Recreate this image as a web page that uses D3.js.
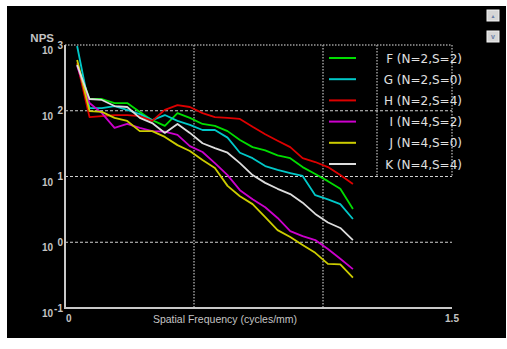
<!DOCTYPE html>
<html>
<head>
<meta charset="utf-8">
<script src="https://cdn.jsdelivr.net/npm/d3@7"></script>
<style>
  body { margin: 0; background: #ffffff; }
  svg { display: block; }
</style>
</head>
<body>
<div id="chart"></div>
<script>
// spatial frequency samples (cycles/mm)
let freqs = [0.047, 0.095, 0.143, 0.192, 0.241, 0.290, 0.338, 0.387, 0.436, 0.484, 0.533, 0.581,
             0.630, 0.678, 0.727, 0.776, 0.824, 0.873, 0.921, 0.970, 1.019, 1.067, 1.116];

let series_names = ["F (N=2,S=2)", "G (N=2,S=0)", "H (N=2,S=4)", "I (N=4,S=2)", "J (N=4,S=0)", "K (N=4,S=4)"];
let series_colors = ["#00dd00", "#00c8c8", "#dd0000", "#cc00cc", "#cccc00", "#dddddd"];

let nps_F = [514, 151, 151, 131, 131, 96, 72, 59, 92, 78, 63, 59, 49, 36, 28, 25, 21, 19, 13.9, 10.9, 8.5, 6.5, 3.2];
let nps_G = [966, 110, 110, 118, 103, 89, 72, 86, 70, 61, 51, 51, 39, 23, 19, 14.4, 12.6, 11.3, 10.2, 5.2, 4.5, 3.8, 2.26];
let nps_H = [532, 80, 83, 86, 86, 83, 70, 103, 122, 114, 92, 80, 78, 75, 57, 44, 35, 28, 19, 16.6, 13.9, 10.5, 7.7];
let nps_I = [480, 131, 92, 55, 63, 55, 49, 48, 43, 29, 23.6, 16, 10.5, 6.2, 4.5, 3.4, 2.34, 1.48, 1.24, 1.08, 0.79, 0.56, 0.39];
let nps_J = [591, 99, 96, 78, 70, 49, 49, 40, 30, 24.4, 17.8, 13.5, 7.2, 5.0, 3.8, 2.42, 1.53, 1.20, 0.91, 0.69, 0.47, 0.46, 0.29];
let nps_K = [497, 151, 146, 118, 114, 78, 65, 46, 63, 46, 32, 27, 23, 16, 10.5, 8.0, 6.5, 5.4, 4.0, 2.7, 2.0, 1.65, 1.08];

let all_series = [nps_F, nps_G, nps_H, nps_I, nps_J, nps_K];

let y_ticks = [0.1, 1, 10, 100, 1000];
let y_exps = ["-1", "0", "1", "2", "3"];
let x_grid = [0.5, 1.0];
let x_labels = [[0, "0"], [1.5, "1.5"]];

let chart_width = 507;
let chart_height = 349;

let svg = d3.select("#chart")
    .append("svg")
    .attr("width", chart_width)
    .attr("height", chart_height);

// black panel
svg.append("rect")
    .attr("x", 7).attr("y", 6)
    .attr("width", 499).attr("height", 332)
    .attr("fill", "#000000");

let xScale = d3.scaleLinear().domain([0, 1.5]).range([65, 452]);
let yScale = d3.scaleLog().domain([0.1, 1000]).range([308, 45]);

let text_color = "#c4c4c4";
let font = "'Liberation Sans', Arial, sans-serif";

// horizontal grid
svg.selectAll(".hgrid")
    .data(y_ticks.slice(1))
    .enter()
    .append("line")
    .attr("x1", xScale(0)).attr("x2", xScale(1.5))
    .attr("y1", d => yScale(d)).attr("y2", d => yScale(d))
    .attr("stroke", d => d == 1000 ? "#9a9a9a" : "#d0d0d0")
    .attr("stroke-width", d => d == 1000 ? 1.5 : 1)
    .attr("stroke-dasharray", d => d == 1000 ? "1.5,1.5" : "3,2");

// vertical grid
svg.selectAll(".vgrid")
    .data(x_grid)
    .enter()
    .append("line")
    .attr("x1", d => xScale(d)).attr("x2", d => xScale(d))
    .attr("y1", yScale(1000)).attr("y2", yScale(0.1))
    .attr("stroke", "#9a9a9a")
    .attr("stroke-width", 1.5)
    .attr("stroke-dasharray", "1.5,1.5");

// legend box sides
let legend_left = 377;
svg.selectAll(".lbox")
    .data([legend_left, xScale(1.5)])
    .enter()
    .append("line")
    .attr("x1", d => d).attr("x2", d => d)
    .attr("y1", yScale(1000)).attr("y2", yScale(10))
    .attr("stroke", "#9a9a9a")
    .attr("stroke-width", 1.5)
    .attr("stroke-dasharray", "1.5,1.5");

// axes lines
svg.append("line")
    .attr("x1", xScale(0)).attr("x2", xScale(0))
    .attr("y1", yScale(1000)).attr("y2", yScale(0.1) + 1)
    .attr("stroke", "#c8c8c8").attr("stroke-width", 2);
svg.append("line")
    .attr("x1", xScale(0)).attr("x2", xScale(1.5))
    .attr("y1", yScale(0.1)).attr("y2", yScale(0.1))
    .attr("stroke", "#c8c8c8").attr("stroke-width", 2);

// y tick labels 10^n
let ylab = svg.selectAll(".ylab")
    .data(y_ticks)
    .enter()
    .append("g");
ylab.append("text")
    .attr("x", 53)
    .attr("y", d => yScale(d) + 9)
    .attr("text-anchor", "end")
    .attr("font-family", font)
    .attr("font-weight", "bold")
    .attr("font-size", "10px")
    .attr("fill", text_color)
    .text("10");
ylab.append("text")
    .attr("x", 63)
    .attr("y", (d, i) => yScale(d) + 3.5)
    .attr("text-anchor", "end")
    .attr("font-family", font)
    .attr("font-weight", "bold")
    .attr("font-size", "10px")
    .attr("fill", text_color)
    .text((d, i) => y_exps[i]);

svg.append("text")
    .attr("x", 54).attr("y", 41.5)
    .attr("text-anchor", "end")
    .attr("font-family", font)
    .attr("font-weight", "bold")
    .attr("font-size", "11.5px")
    .attr("fill", text_color)
    .text("NPS");

// x tick labels
svg.selectAll(".xlab")
    .data(x_labels)
    .enter()
    .append("text")
    .attr("x", d => d[0] == 0 ? xScale(d[0]) + 1 : xScale(d[0]))
    .attr("y", 322)
    .attr("text-anchor", d => d[0] == 0 ? "start" : "middle")
    .attr("font-family", font)
    .attr("font-weight", "bold")
    .attr("font-size", "10px")
    .attr("fill", text_color)
    .text(d => d[1]);

svg.append("text")
    .attr("x", 225).attr("y", 323)
    .attr("text-anchor", "middle")
    .attr("font-family", font)
    .attr("font-size", "10.5px")
    .attr("fill", text_color)
    .text("Spatial Frequency (cycles/mm)");

// curves
let line = d3.line()
    .x((d, i) => xScale(freqs[i]))
    .y(d => yScale(d));

svg.selectAll(".curve")
    .data(all_series)
    .enter()
    .append("path")
    .attr("d", d => line(d))
    .attr("fill", "none")
    .attr("stroke", (d, i) => series_colors[i])
    .attr("stroke-width", 1.8)
    .attr("stroke-linejoin", "round");

// legend
let legend = svg.selectAll(".legend")
    .data(series_names)
    .enter()
    .append("g")
    .attr("transform", (d, i) => "translate(0," + (58 + i * 21.2) + ")");
legend.append("line")
    .attr("x1", 329).attr("x2", 356)
    .attr("y1", 0).attr("y2", 0)
    .attr("stroke", (d, i) => series_colors[i])
    .attr("stroke-width", 2);
legend.append("text")
    .attr("x", 462).attr("y", 4.5)
    .attr("text-anchor", "end")
    .attr("font-family", "'DejaVu Sans', Verdana, sans-serif")
    .attr("font-size", "12px")
    .attr("fill", "#e0e0e0")
    .text(d => d);

// scroll buttons top right
let buttons = svg.selectAll(".btn")
    .data(["\u25B2", "v"])
    .enter()
    .append("g")
    .attr("transform", (d, i) => "translate(487," + (10 + i * 21) + ")");
buttons.append("rect")
    .attr("width", 12).attr("height", 11)
    .attr("fill", "#d6d6d6")
    .attr("stroke", "#f4f4f4")
    .attr("stroke-width", 1);
buttons.append("text")
    .attr("x", 6).attr("y", 7.5)
    .attr("text-anchor", "middle")
    .attr("font-family", font)
    .attr("font-weight", "bold")
    .attr("font-size", (d, i) => i == 0 ? "5px" : "7px")
    .attr("fill", "#6a7fa8")
    .text(d => d);
</script>
</body>
</html>
